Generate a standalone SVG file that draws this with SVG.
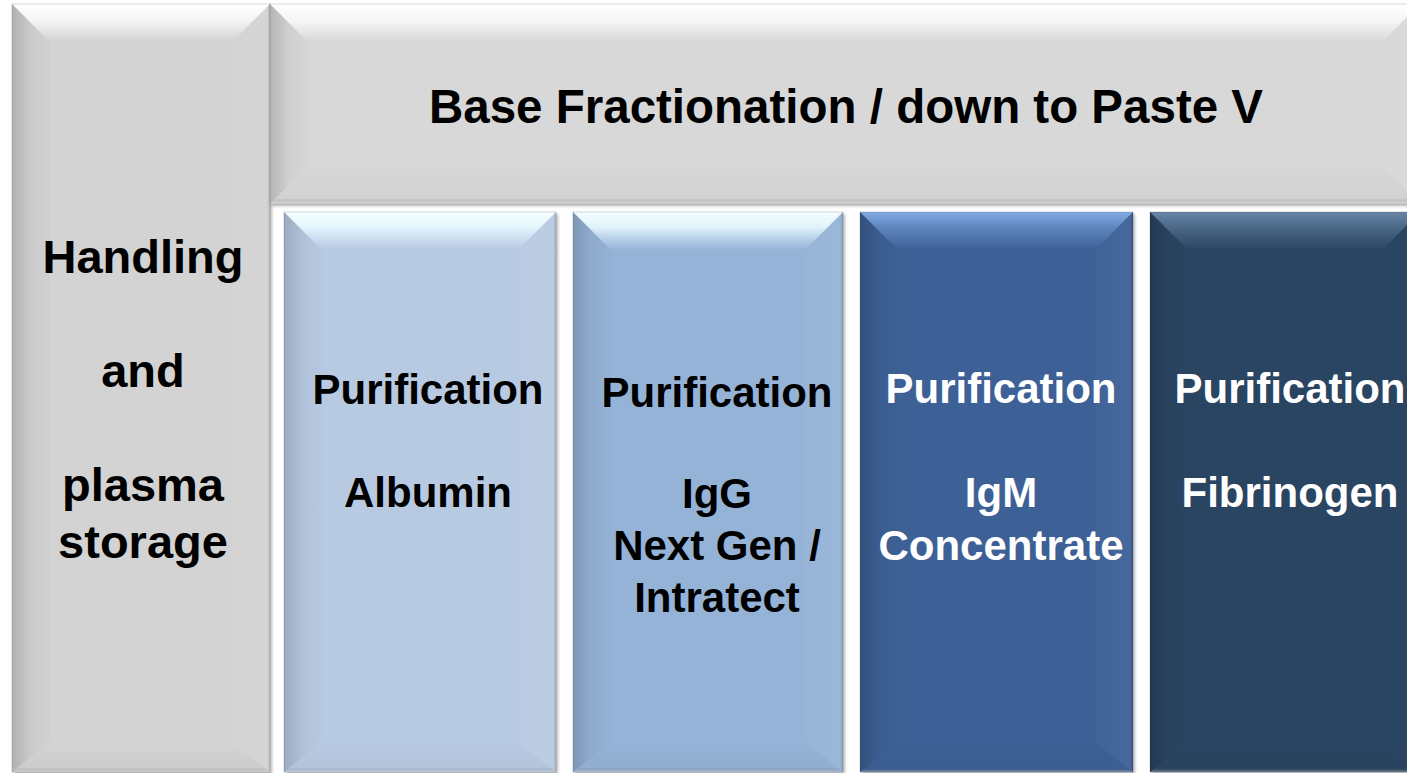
<svg xmlns="http://www.w3.org/2000/svg" width="1407" height="773" viewBox="0 0 1407 773">
  <defs>
    <style>
      .lbl { font-family: "Liberation Sans", Arial, sans-serif; font-weight: bold; text-anchor: middle; }
      .dark { fill: #000000; }
      .light { fill: #ffffff; }
      .big { font-size: 47px; }
      .col { font-size: 42px; }
      .hdr { font-size: 47.5px; }
      .edge { fill: none; stroke: #000; stroke-opacity: 0.15; stroke-width: 1; }
    </style>
    <filter id="shadow" x="-5%" y="-5%" width="110%" height="110%">
      <feDropShadow dx="2" dy="2" stdDeviation="1.5" flood-color="#000" flood-opacity="0.28"/>
    </filter>
    <linearGradient id="gLeft" x1="0" y1="0" x2="1" y2="0">
      <stop offset="0" stop-color="#000" stop-opacity="0.16"/>
      <stop offset="0.5" stop-color="#000" stop-opacity="0.04"/>
      <stop offset="1" stop-color="#000" stop-opacity="0.01"/>
    </linearGradient>
    <linearGradient id="gRight" x1="0" y1="0" x2="1" y2="0">
      <stop offset="0" stop-color="#fff" stop-opacity="0.02"/>
      <stop offset="0.9" stop-color="#fff" stop-opacity="0.05"/>
      <stop offset="1" stop-color="#000" stop-opacity="0.1"/>
    </linearGradient>
    <linearGradient id="gBottom" x1="0" y1="0" x2="0" y2="1">
      <stop offset="0" stop-color="#000" stop-opacity="0.0"/>
      <stop offset="0.85" stop-color="#000" stop-opacity="0.03"/>
      <stop offset="1" stop-color="#fff" stop-opacity="0.4"/>
    </linearGradient>
    <linearGradient id="gTopGray" x1="0" y1="0" x2="0" y2="1">
      <stop offset="0" stop-color="#ffffff" stop-opacity="1"/>
      <stop offset="0.45" stop-color="#ffffff" stop-opacity="0.75"/>
      <stop offset="1" stop-color="#ffffff" stop-opacity="0"/>
    </linearGradient>
    <linearGradient id="gTopBlue1" x1="0" y1="0" x2="0" y2="1">
      <stop offset="0" stop-color="#f4ffff" stop-opacity="1"/>
      <stop offset="0.4" stop-color="#e8faff" stop-opacity="0.9"/>
      <stop offset="1" stop-color="#dff2ff" stop-opacity="0"/>
    </linearGradient>
    <linearGradient id="gTopBlue2" x1="0" y1="0" x2="0" y2="1">
      <stop offset="0" stop-color="#9cc6ff" stop-opacity="0.75"/>
      <stop offset="0.4" stop-color="#8ab6f0" stop-opacity="0.45"/>
      <stop offset="1" stop-color="#8ab6f0" stop-opacity="0"/>
    </linearGradient>
    <linearGradient id="gTopBlue3" x1="0" y1="0" x2="0" y2="1">
      <stop offset="0" stop-color="#a8c8f0" stop-opacity="0.5"/>
      <stop offset="0.4" stop-color="#9dbbe0" stop-opacity="0.3"/>
      <stop offset="1" stop-color="#9dbbe0" stop-opacity="0"/>
    </linearGradient>
  </defs>

  <rect x="0" y="0" width="1407" height="773" fill="#ffffff"/>

  <!-- Left box: Handling and plasma storage -->
  <g id="handling">
    <g filter="url(#shadow)">
      <rect x="12" y="4" width="258" height="768" fill="#d3d3d3"/>
    </g>
    <polygon points="12,4 270,4 232,42 50,42" fill="url(#gTopGray)"/>
    <polygon points="12,4 50,42 50,742 12,772" fill="url(#gLeft)"/>
    <polygon points="270,4 232,42 232,742 270,772" fill="url(#gRight)"/>
    <polygon points="12,772 50,742 232,742 270,772" fill="url(#gBottom)"/>
    <rect x="12" y="4" width="258" height="768" class="edge"/>
    <text class="lbl dark big" x="143" y="273">Handling</text>
    <text class="lbl dark big" x="143" y="387">and</text>
    <text class="lbl dark big" x="143" y="501">plasma</text>
    <text class="lbl dark big" x="143" y="558">storage</text>
  </g>

  <!-- Header box -->
  <g id="base-fractionation">
    <g filter="url(#shadow)">
      <rect x="270" y="4" width="1150" height="200" fill="#d8d8d8"/>
    </g>
    <polygon points="270,4 1420,4 1382,42 308,42" fill="url(#gTopGray)"/>
    <polygon points="270,4 308,42 308,166 270,204" fill="url(#gLeft)"/>
    <polygon points="1420,4 1382,42 1382,166 1420,204" fill="url(#gRight)"/>
    <polygon points="270,204 308,166 1382,166 1420,204" fill="url(#gBottom)"/>
    <rect x="270" y="4" width="1150" height="200" class="edge"/>
    <text class="lbl dark hdr" x="846" y="123">Base Fractionation / down to Paste V</text>
  </g>

  <!-- Column 1: Albumin -->
  <g id="albumin">
    <g filter="url(#shadow)">
      <rect x="284" y="212" width="272" height="560" fill="#b8cae2"/>
    </g>
    <polygon points="284,212 556,212 518,250 322,250" fill="url(#gTopBlue1)"/>
    <polygon points="284,212 322,250 322,742 284,772" fill="url(#gLeft)"/>
    <polygon points="556,212 518,250 518,742 556,772" fill="url(#gRight)"/>
    <polygon points="284,772 322,742 518,742 556,772" fill="url(#gBottom)"/>
    <rect x="284" y="212" width="272" height="560" class="edge"/>
    <text class="lbl dark col" x="428" y="404">Purification</text>
    <text class="lbl dark col" x="428" y="507">Albumin</text>
  </g>

  <!-- Column 2: IgG -->
  <g id="igg">
    <g filter="url(#shadow)">
      <rect x="573" y="212" width="270" height="560" fill="#95b3d7"/>
    </g>
    <polygon points="573,212 843,212 805,250 611,250" fill="url(#gTopBlue1)"/>
    <polygon points="573,212 611,250 611,742 573,772" fill="url(#gLeft)"/>
    <polygon points="843,212 805,250 805,742 843,772" fill="url(#gRight)"/>
    <polygon points="573,772 611,742 805,742 843,772" fill="url(#gBottom)"/>
    <rect x="573" y="212" width="270" height="560" class="edge"/>
    <text class="lbl dark col" x="717" y="407">Purification</text>
    <text class="lbl dark col" x="717" y="508">IgG</text>
    <text class="lbl dark col" x="717" y="560">Next Gen /</text>
    <text class="lbl dark col" x="717" y="612">Intratect</text>
  </g>

  <!-- Column 3: IgM -->
  <g id="igm">
    <g filter="url(#shadow)">
      <rect x="860" y="212" width="273" height="560" fill="#3d6196"/>
    </g>
    <polygon points="860,212 1133,212 1095,250 898,250" fill="url(#gTopBlue2)"/>
    <polygon points="860,212 898,250 898,742 860,772" fill="url(#gLeft)"/>
    <polygon points="1133,212 1095,250 1095,742 1133,772" fill="url(#gRight)"/>
    <polygon points="860,772 898,742 1095,742 1133,772" fill="url(#gBottom)"/>
    <rect x="860" y="212" width="273" height="560" class="edge"/>
    <text class="lbl light col" x="1001" y="403">Purification</text>
    <text class="lbl light col" x="1001" y="507">IgM</text>
    <text class="lbl light col" x="1001" y="560">Concentrate</text>
  </g>

  <!-- Column 4: Fibrinogen -->
  <g id="fibrinogen">
    <g filter="url(#shadow)">
      <rect x="1150" y="212" width="270" height="560" fill="#2a4462"/>
    </g>
    <polygon points="1150,212 1420,212 1382,250 1188,250" fill="url(#gTopBlue3)"/>
    <polygon points="1150,212 1188,250 1188,742 1150,772" fill="url(#gLeft)"/>
    <polygon points="1150,772 1188,742 1382,742 1420,772" fill="url(#gBottom)"/>
    <rect x="1150" y="212" width="270" height="560" class="edge"/>
    <text class="lbl light col" x="1290" y="403">Purification</text>
    <text class="lbl light col" x="1290" y="507">Fibrinogen</text>
  </g>

  <g id="connectors"/>
</svg>
